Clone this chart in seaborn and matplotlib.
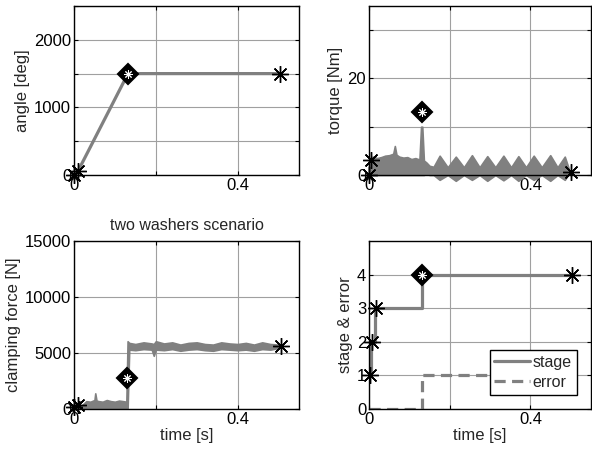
import matplotlib
matplotlib.use('Agg')
import matplotlib.pyplot as plt
import pandas as pd
import seaborn as sns

# ---- data ----
angle_t = [0.0, 0.01, 0.132, 0.504]
angle_deg = [0, 60, 1500, 1500]

torque_t = [0.000, 0.004, 0.010, 0.020, 0.030, 0.040, 0.050, 0.060, 0.064, 0.068,
            0.075, 0.085, 0.095, 0.105, 0.115, 0.125, 0.129, 0.132, 0.136, 0.142,
            0.150, 0.160, 0.175, 0.195, 0.215, 0.235, 0.255, 0.274, 0.293, 0.313,
            0.333, 0.352, 0.370, 0.389, 0.408, 0.428, 0.449, 0.467, 0.485, 0.495]
torque_hi = [2.8, 3.6, 3.8, 3.5, 3.7, 4.0, 4.1, 4.4, 6.0, 4.2,
             3.8, 3.6, 3.7, 3.3, 3.5, 3.2, 10.0, 10.0, 3.0, 2.6,
             1.9, 1.7, 4.0, 1.6, 3.8, 1.6, 4.1, 1.6, 3.9, 1.6,
             4.0, 1.6, 3.9, 1.6, 4.0, 1.6, 4.1, 1.6, 3.8, 1.3]
torque_lo = [0.0, 0.0, 0.0, 0.0, 0.0, 0.0, 0.0, 0.0, 0.0, 0.0,
             0.0, 0.0, 0.0, 0.0, 0.0, 0.0, 0.0, 0.0, 0.0, 0.2,
             0.0, 0.0, -1.0, 0.0, -1.2, 0.0, -1.0, 0.0, -1.2, 0.0,
             -1.1, 0.0, -1.2, 0.0, -1.0, 0.0, -1.2, 0.0, -1.0, 0.2]

force_t = [0.000, 0.010, 0.020, 0.030, 0.040, 0.050, 0.052, 0.055, 0.060, 0.070,
           0.080, 0.090, 0.100, 0.110, 0.120, 0.128, 0.131, 0.135, 0.150, 0.170,
           0.190, 0.195, 0.200, 0.220, 0.240, 0.260, 0.280, 0.300, 0.320, 0.340,
           0.360, 0.380, 0.400, 0.420, 0.440, 0.460, 0.480, 0.500]
force_hi = [150, 250, 350, 700, 650, 800, 1400, 750, 700, 650,
            800, 700, 650, 750, 700, 650, 6050, 5900, 5800, 5950,
            5850, 5800, 6050, 5850, 5950, 5750, 5900, 5950, 5800, 5750,
            5950, 5850, 5800, 5900, 5750, 5950, 5800, 5750]
force_lo = [0, 0, 0, 0, 0, 0, 0, 0, 0, 0,
            0, 0, 0, 0, 0, 0, 0, 5300, 5250, 5350,
            5300, 4750, 5300, 5250, 5350, 5200, 5300, 5350, 5250, 5200,
            5350, 5300, 5250, 5300, 5200, 5350, 5300, 5450]

stage_t = [0.0, 0.005, 0.015, 0.132, 0.504]
stage_v = [1, 2, 3, 4, 4]
error_t = [0.0, 0.132, 0.504]
error_v = [0, 1, 1]

# event markers (asterisks) and the switch point (diamond)
angle_star_t, angle_star_v = [0.0, 0.01, 0.504], [0, 60, 1500]
angle_dia = (0.132, 1500)
torque_star_t, torque_star_v = [0.0, 0.005, 0.5], [0, 3.1, 0.6]
torque_dia = (0.132, 13.1)
force_star_t, force_star_v = [0.0, 0.01, 0.507], [150, 350, 5600]
force_dia = (0.13, 2800)
stage_star_t, stage_star_v = [0.002, 0.008, 0.017, 0.504], [1, 2, 3, 4]
stage_dia = (0.132, 4)

LINE = '#808080'
LW = 2.3
FS = 12

sns.set_theme(style='white')
plt.rcParams['font.family'] = ['Liberation Sans', 'DejaVu Sans']
plt.rcParams['font.size'] = FS


def style_axis(ax, yticks, ylabels, ylim, ylabel, xlabel=None):
    ax.set_xlim(0, 0.55)
    ax.set_ylim(*ylim)
    ax.set_xticks([0, 0.2, 0.4])
    ax.set_xticklabels(['0', '', '0.4'], fontsize=FS)
    ax.set_yticks(yticks)
    ax.set_yticklabels(ylabels, fontsize=FS)
    ax.grid(True, color='#a0a0a0', linewidth=0.8)
    ax.tick_params(direction='in', length=3, width=0.8, top=True, right=True,
                   bottom=True, left=True, colors='black', pad=2)
    for sp in ax.spines.values():
        sp.set_color('black')
        sp.set_linewidth(1.0)
    ax.set_ylabel(ylabel, fontsize=FS, labelpad=3)
    ax.set_xlabel(xlabel if xlabel else '', fontsize=FS, labelpad=1)


def events(ax, st, sv, dia):
    ax.plot(st, sv, linestyle='none', marker=(8, 2, 0), markersize=12,
            markeredgecolor='black', markeredgewidth=1.0, clip_on=False, zorder=5)
    ax.plot([dia[0]], [dia[1]], linestyle='none', marker='D', markersize=10,
            markerfacecolor='black', markeredgecolor='black', markeredgewidth=1.5,
            clip_on=False, zorder=5)
    ax.plot([dia[0]], [dia[1]], linestyle='none', marker=(8, 2, 0), markersize=6,
            markeredgecolor='white', markeredgewidth=0.7, clip_on=False, zorder=6)


fig = plt.figure(figsize=(5.92, 4.53), dpi=100)
W, H = 592, 453
ax1 = fig.add_axes([74 / W, 1 - 175 / H, 225 / W, 169 / H])
ax2 = fig.add_axes([369 / W, 1 - 175 / H, 222 / W, 169 / H])
ax3 = fig.add_axes([74 / W, 1 - 409 / H, 225 / W, 168 / H])
ax4 = fig.add_axes([369 / W, 1 - 409 / H, 222 / W, 168 / H])

# angle
sns.lineplot(x=angle_t, y=angle_deg, ax=ax1, color=LINE, linewidth=LW)
style_axis(ax1, [0, 500, 1000, 1500, 2000, 2500], ['0', '', '1000', '', '2000', ''],
           (0, 2500), 'angle [deg]')
events(ax1, angle_star_t, angle_star_v, angle_dia)

# torque
ax2.fill_between(torque_t, torque_lo, torque_hi, color=LINE, edgecolor=LINE,
                 linewidth=1.2, clip_on=False)
style_axis(ax2, [0, 10, 20, 30], ['0', '', '20', ''], (0, 35), 'torque [Nm]')
events(ax2, torque_star_t, torque_star_v, torque_dia)

# clamping force
ax3.fill_between(force_t, force_lo, force_hi, color=LINE, edgecolor=LINE, linewidth=1.2)
style_axis(ax3, [0, 5000, 10000, 15000], ['0', '5000', '10000', '15000'],
           (0, 15000), 'clamping force [N]', 'time [s]')
ax3.set_title('two washers scenario', fontsize=11.5, pad=8)
events(ax3, force_star_t, force_star_v, force_dia)

# stage & error
df = pd.concat([
    pd.DataFrame({'t': stage_t, 'v': stage_v, 'kind': 'stage'}),
    pd.DataFrame({'t': error_t, 'v': error_v, 'kind': 'error'}),
])
sns.lineplot(data=df[df.kind == 'stage'], x='t', y='v', ax=ax4, color=LINE,
             linewidth=LW, drawstyle='steps-post', label='stage')
sns.lineplot(data=df[df.kind == 'error'], x='t', y='v', ax=ax4, color=LINE,
             linewidth=LW, drawstyle='steps-post', dashes=False, label='error')
ax4.lines[-1].set_dashes([3.5, 2])
style_axis(ax4, [0, 1, 2, 3, 4], ['0', '1', '2', '3', '4'], (0, 5),
           'stage & error', 'time [s]')
events(ax4, stage_star_t, stage_star_v, stage_dia)
leg = ax4.legend(loc='lower right', fontsize=11.5, frameon=True, fancybox=False,
                 framealpha=1, edgecolor='black', borderaxespad=0.9,
                 handlelength=2.2, handletextpad=0.2, labelspacing=0.3,
                 borderpad=0.3)
leg.get_frame().set_linewidth(1.0)
leg.set_zorder(10)

fig.savefig('out.png', dpi=100)
